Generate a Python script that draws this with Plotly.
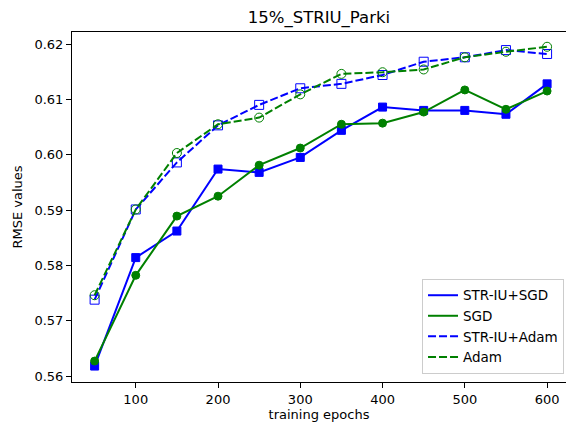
import plotly.graph_objects as go

epochs = [50, 100, 150, 200, 250, 300, 350, 400, 450, 500, 550, 600]
str_iu_sgd = [0.5618, 0.5814, 0.5862, 0.5974, 0.5968, 0.5995, 0.6044, 0.6086, 0.6080, 0.6080, 0.6073, 0.6128]
sgd = [0.5627, 0.5782, 0.5889, 0.5925, 0.5981, 0.6012, 0.6055, 0.6057, 0.6077, 0.6117, 0.6082, 0.6115]
str_iu_adam = [0.5738, 0.5901, 0.5986, 0.6053, 0.6090, 0.6120, 0.6128, 0.6144, 0.6168, 0.6176, 0.6189, 0.6182]
adam = [0.5746, 0.5901, 0.6003, 0.6055, 0.6067, 0.6109, 0.6146, 0.6149, 0.6154, 0.6176, 0.6186, 0.6195]

BLUE = "#0000ff"
GREEN = "#008000"
DASH = "8px,3px"

series = [
    ("STR-IU+SGD", str_iu_sgd, BLUE, "solid", "square", 8),
    ("SGD", sgd, GREEN, "solid", "circle", 8),
    ("STR-IU+Adam", str_iu_adam, BLUE, DASH, "square-open", 9),
    ("Adam", adam, GREEN, DASH, "circle-open", 9),
]

fig = go.Figure()
for name, vals, color, dash, symbol, size in series:
    fig.add_trace(go.Scatter(x=epochs, y=vals, name=name, mode="lines+markers", showlegend=False,
                             line=dict(color=color, width=2, dash=dash),
                             marker=dict(symbol=symbol, size=size, color=color, line=dict(width=1, color=color))))
# legend entries (line samples only, like the reference)
for name, vals, color, dash, symbol, size in series:
    fig.add_trace(go.Scatter(x=[None], y=[None], name=name, mode="lines",
                             line=dict(color=color, width=2, dash=dash)))

axis_common = dict(showline=True, linecolor="black", linewidth=1, mirror=True,
                   ticks="outside", ticklen=5, tickcolor="black", showgrid=False,
                   zeroline=False, automargin=False, tickfont=dict(size=13, color="black"))

fig.update_layout(
    width=566, height=424,
    margin=dict(l=72, r=0, t=32, b=42),
    paper_bgcolor="white", plot_bgcolor="white",
    font=dict(family="DejaVu Sans", size=13, color="black"),
    title=dict(text="15%_STRIU_Parki", x=0.5635, xanchor="center", y=0.96, yanchor="middle",
               font=dict(size=16.5, color="black")),
    xaxis=dict(range=[22.5, 623], tickvals=[100, 200, 300, 400, 500, 600],
               title=dict(text="training epochs", font=dict(size=13), standoff=2), **axis_common),
    yaxis=dict(range=[0.55892, 0.62217], tickvals=[0.56, 0.57, 0.58, 0.59, 0.60, 0.61, 0.62],
               tickformat=".2f",
               title=dict(text="RMSE values", font=dict(size=13), standoff=8), **axis_common),
    legend=dict(x=0.996, y=0.023, xanchor="right", yanchor="bottom",
                bgcolor="rgba(255,255,255,0.8)", bordercolor="#cccccc", borderwidth=1,
                font=dict(size=13.5), tracegroupgap=0, itemwidth=30),
    showlegend=True,
)

fig.write_html("out.html", config={"displayModeBar": False},
               post_script="document.body.style.margin='0';")
